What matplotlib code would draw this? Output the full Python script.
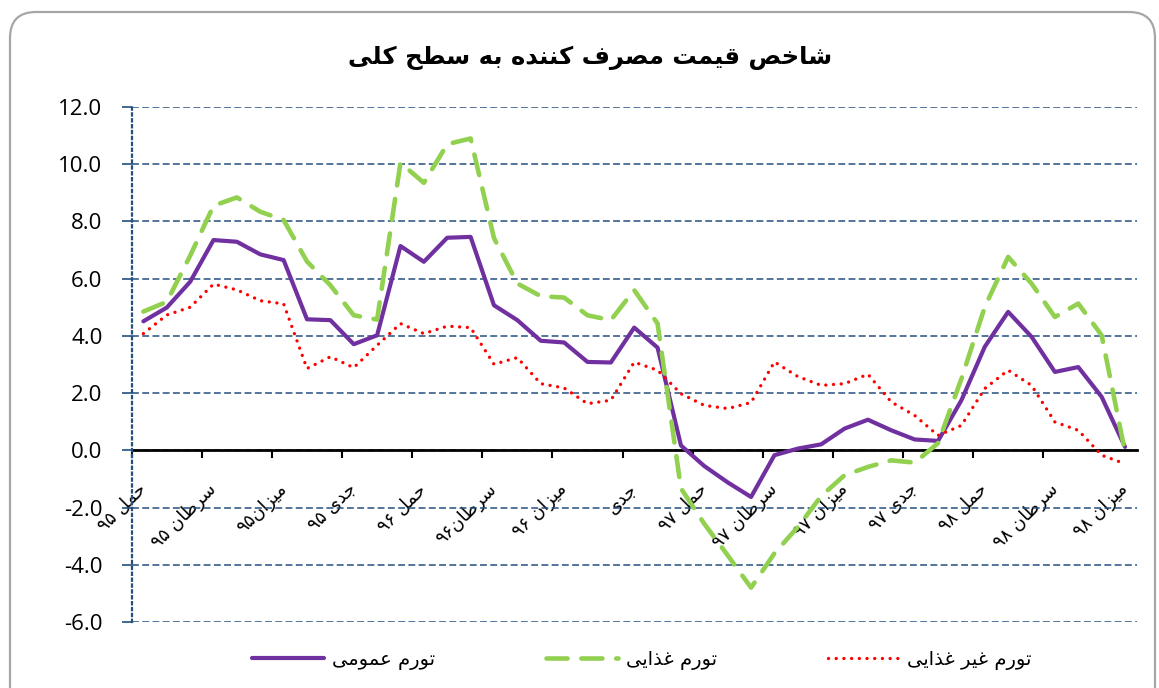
import re
import matplotlib
matplotlib.use('Agg')
import matplotlib.pyplot as plt
from matplotlib.patches import FancyBboxPatch
from matplotlib.transforms import IdentityTransform

# ---------------- data ----------------
title = 'شاخص قیمت مصرف کننده به سطح کلی'
series_names = ['تورم عمومی', 'تورم غذایی', 'تورم غیر غذایی']
tick_labels = ['حمل ۹۵', 'سرطان ۹۵', 'میزان۹۵', 'جدی ۹۵', 'حمل ۹۶', 'سرطان۹۶',
               'میزان ۹۶', 'جدی', 'حمل ۹۷', 'سرطان ۹۷', 'میزان ۹۷', 'جدی ۹۷',
               'حمل ۹۸', 'سرطان ۹۸', 'میزان ۹۸']
label_step = 3

general = [4.51, 4.99, 5.89, 7.35, 7.29, 6.85, 6.65, 4.58, 4.55, 3.71, 4.02,
           7.14, 6.59, 7.43, 7.46, 5.07, 4.55, 3.83, 3.77, 3.09, 3.07, 4.29,
           3.59, 0.17, -0.55, -1.12, -1.63, -0.17, 0.06, 0.21, 0.76, 1.07,
           0.70, 0.38, 0.33, 1.75, 3.62, 4.84, 3.97, 2.74, 2.91, 1.87, 0.12]
food = [4.85, 5.19, 6.80, 8.55, 8.84, 8.34, 8.05, 6.60, 5.77, 4.72, 4.57,
        10.05, 9.35, 10.70, 10.90, 7.42, 5.83, 5.39, 5.34, 4.72, 4.55, 5.60,
        4.43, -1.33, -2.57, -3.67, -4.80, -3.60, -2.68, -1.60, -0.87, -0.58,
        -0.35, -0.43, 0.25, 2.50, 5.01, 6.76, 5.83, 4.66, 5.13, 4.02, -0.06]
non_food = [4.08, 4.73, 5.00, 5.81, 5.61, 5.23, 5.12, 2.86, 3.27, 2.89, 3.67,
            4.43, 4.08, 4.34, 4.29, 3.01, 3.24, 2.33, 2.18, 1.63, 1.75, 3.08,
            2.80, 1.98, 1.57, 1.46, 1.67, 3.09, 2.58, 2.27, 2.33, 2.66, 1.69,
            1.22, 0.52, 0.87, 2.16, 2.80, 2.27, 0.99, 0.70, -0.17, -0.47]
y_ticks = [-6, -4, -2, 0, 2, 4, 6, 8, 10, 12]

# ---------------- Persian shaping (presentation forms, visual order) ----------------
FORMS = {
    'ا': ('\uFE8D', '\uFE8E', None, None),
    'ب': ('\uFE8F', '\uFE90', '\uFE91', '\uFE92'),
    'ت': ('\uFE95', '\uFE96', '\uFE97', '\uFE98'),
    'ج': ('\uFE9D', '\uFE9E', '\uFE9F', '\uFEA0'),
    'ح': ('\uFEA1', '\uFEA2', '\uFEA3', '\uFEA4'),
    'خ': ('\uFEA5', '\uFEA6', '\uFEA7', '\uFEA8'),
    'د': ('\uFEA9', '\uFEAA', None, None),
    'ذ': ('\uFEAB', '\uFEAC', None, None),
    'ر': ('\uFEAD', '\uFEAE', None, None),
    'ز': ('\uFEAF', '\uFEB0', None, None),
    'س': ('\uFEB1', '\uFEB2', '\uFEB3', '\uFEB4'),
    'ش': ('\uFEB5', '\uFEB6', '\uFEB7', '\uFEB8'),
    'ص': ('\uFEB9', '\uFEBA', '\uFEBB', '\uFEBC'),
    'ط': ('\uFEC1', '\uFEC2', '\uFEC3', '\uFEC4'),
    'ع': ('\uFEC9', '\uFECA', '\uFECB', '\uFECC'),
    'غ': ('\uFECD', '\uFECE', '\uFECF', '\uFED0'),
    'ف': ('\uFED1', '\uFED2', '\uFED3', '\uFED4'),
    'ق': ('\uFED5', '\uFED6', '\uFED7', '\uFED8'),
    '\u06A9': ('\uFB8E', '\uFB8F', '\uFB90', '\uFB91'),
    '\u0643': ('\uFED9', '\uFEDA', '\uFEDB', '\uFEDC'),
    'ل': ('\uFEDD', '\uFEDE', '\uFEDF', '\uFEE0'),
    'م': ('\uFEE1', '\uFEE2', '\uFEE3', '\uFEE4'),
    'ن': ('\uFEE5', '\uFEE6', '\uFEE7', '\uFEE8'),
    'ه': ('\uFEE9', '\uFEEA', '\uFEEB', '\uFEEC'),
    'و': ('\uFEED', '\uFEEE', None, None),
    '\u06CC': ('\uFBFC', '\uFBFD', '\uFBFE', '\uFBFF'),
    '\u064A': ('\uFEF1', '\uFEF2', '\uFEF3', '\uFEF4'),
}
DIGITS = '0-9\u06F0-\u06F9\u0660-\u0669'


def shape(text):
    out = []
    n = len(text)
    for i, c in enumerate(text):
        if c not in FORMS:
            out.append(c)
            continue
        p = text[i - 1] if i > 0 else ''
        q = text[i + 1] if i < n - 1 else ''
        jp = p in FORMS and FORMS[p][2] is not None
        jn = q in FORMS and FORMS[c][2] is not None
        iso, fin, ini, med = FORMS[c]
        out.append(med if (jp and jn) else fin if jp else ini if jn else iso)
    s = ''.join(out)
    tokens = re.findall('[' + DIGITS + '.]+|[^' + DIGITS + '.]+', s)
    tokens = [t if re.match('[' + DIGITS + ']', t) else t[::-1] for t in tokens]
    return ''.join(reversed(tokens))


# ---------------- figure ----------------
plt.rcParams['axes.unicode_minus'] = False
W, H = 1159, 688
fig = plt.figure(figsize=(W / 100, H / 100), dpi=100)

border = FancyBboxPatch((10, -30), 1145, 688 - 12 + 30,
                        boxstyle='round,pad=0,rounding_size=26',
                        transform=IdentityTransform(), fc='none',
                        ec='#A6A6A6', lw=1.6, zorder=-5)
fig.patches.append(border)

x0, x1, ytop, ybot = 131.7, 1136.7, 107, 622
ax = fig.add_axes([x0 / W, (H - ybot) / H, (x1 - x0) / W, (ybot - ytop) / H])
ax.set_facecolor('none')
ax.set_zorder(2)

x = list(range(len(general)))
grid_col = '#24507F'

ax.plot(x, general, color='#7030A0', lw=3.0, solid_joinstyle='round',
        solid_capstyle='round', zorder=3, label=shape(series_names[0]))
ax.plot(x, food, color='#92D050', lw=3.3, linestyle=(0, (4.6, 3.0)),
        dash_capstyle='round', dash_joinstyle='round', zorder=4,
        label=shape(series_names[1]))
ax.plot(x, non_food, color='#FF0000', lw=2.4, linestyle=(0, (0.01, 2.3)),
        dash_capstyle='round', zorder=5, label=shape(series_names[2]))

ax.set_xlim(-0.5, len(general) - 0.5)
ax.set_ylim(y_ticks[0], y_ticks[-1])
ax.set_yticks(y_ticks)
ax.set_yticklabels([f'{v:.1f}' for v in y_ticks], fontsize=16,
                   family='Open Sans')
ax.yaxis.grid(True, color=grid_col, lw=1.1, linestyle=(0, (4.5, 2.2)))
ax.set_axisbelow(True)
ax.tick_params(axis='y', direction='out', length=7, width=1.2,
               color=grid_col, pad=14)

for s in ('top', 'right'):
    ax.spines[s].set_visible(False)
ax.spines['left'].set_color(grid_col)
ax.spines['left'].set_linestyle(':')
ax.spines['left'].set_linewidth(1.6)
ax.spines['bottom'].set_position(('data', 0))
ax.spines['bottom'].set_color('black')
ax.spines['bottom'].set_linewidth(2.0)
ax.spines['bottom'].set_zorder(2)

n = len(general)
ax.set_xticks([k - 0.5 for k in range(0, n - 1, label_step)])
ax.set_xticklabels([])
ax.tick_params(axis='x', which='major', direction='out', length=6,
               width=1.5, color='black')
label_pos = list(range(0, n, label_step))
ax.set_xticks(label_pos, minor=True)
ax.set_xticklabels([shape(t) for t in tick_labels], minor=True,
                   rotation=45, ha='right', va='center',
                   rotation_mode='anchor', fontsize=13, family='DejaVu Sans')
ax.tick_params(axis='x', which='minor', length=0, pad=26)

fig.text(590 / W, 1 - 58 / H, shape(title), ha='center', va='center',
         fontsize=17.5, fontweight='bold', family='DejaVu Sans')

fig.legend(loc='center', bbox_to_anchor=(642 / W, 1 - 660 / H), ncol=3,
           frameon=False, prop={'family': 'DejaVu Sans', 'size': 14},
           handlelength=3.7, columnspacing=5.7, handletextpad=0.4)

fig.savefig('out.png', dpi=100)
